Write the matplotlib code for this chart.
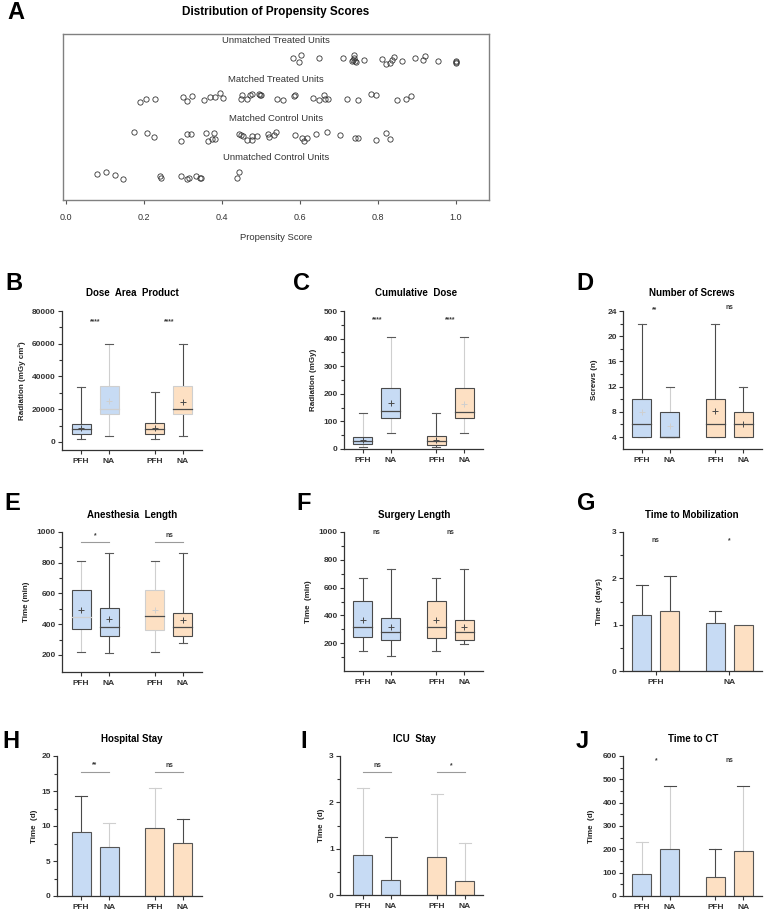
"""Propensity-score matching summary: jitter plot plus nine box/bar panels."""

import matplotlib
matplotlib.use("Agg")
import matplotlib.pyplot as plt
from matplotlib.patches import Rectangle
from matplotlib.ticker import FixedLocator, FuncFormatter
import numpy as np

plt.rcParams["font.family"] = ["Liberation Sans", "DejaVu Sans"]
plt.rcParams["font.weight"] = "bold"

W, H = 765, 915
BLUE = "#c7dbf4"
ORANGE = "#fde0c3"
EDGE = "#4a4a4a"
FAINT = "#cfcfcf"

# ---------------- panel A: propensity scores (value, jitter)
ut_score = [0.582, 0.602, 0.598, 0.649, 0.711, 0.738, 0.736, 0.739, 0.733, 0.740,
            0.745, 0.765, 0.811, 0.822, 0.830, 0.837, 0.842, 0.863, 0.895, 0.916,
            0.921, 0.955, 1.0, 1.0, 1.0]
ut_jit = [0.03, 0.10, -0.07, 0.02, 0.03, 0.10, -0.02, 0.03, -0.06, -0.05,
          -0.07, -0.03, 0.0, -0.13, -0.10, -0.02, 0.05, -0.05, 0.01, -0.03,
          0.07, -0.06, -0.05, -0.09, -0.11]
mt_score = [0.190, 0.205, 0.228, 0.301, 0.311, 0.323, 0.354, 0.370, 0.383, 0.395,
            0.402, 0.451, 0.449, 0.465, 0.471, 0.478, 0.495, 0.498, 0.500, 0.541,
            0.557, 0.584, 0.586, 0.634, 0.649, 0.661, 0.664, 0.672, 0.721, 0.748,
            0.782, 0.795, 0.848, 0.871, 0.884]
mt_jit = [-0.10, -0.02, -0.03, 0.03, -0.09, 0.05, -0.05, 0.01, 0.02, 0.11,
          -0.01, 0.08, -0.03, -0.03, 0.06, 0.10, 0.09, 0.06, 0.07, -0.02,
          -0.06, 0.05, 0.08, -0.01, -0.05, 0.07, -0.02, -0.03, -0.03, -0.06,
          0.09, 0.07, -0.05, -0.03, 0.04]
mc_score = [0.174, 0.208, 0.225, 0.294, 0.309, 0.320, 0.360, 0.364, 0.379, 0.375,
            0.381, 0.443, 0.448, 0.455, 0.463, 0.476, 0.478, 0.491, 0.519, 0.521,
            0.533, 0.538, 0.586, 0.604, 0.611, 0.618, 0.641, 0.669, 0.703, 0.741,
            0.750, 0.795, 0.821, 0.831]
mc_jit = [0.11, 0.09, -0.01, -0.10, 0.08, 0.06, 0.09, -0.11, 0.09, -0.06,
          -0.07, 0.07, 0.04, 0.02, -0.09, 0.02, -0.09, 0.02, 0.06, -0.01,
          0.04, 0.11, 0.04, -0.03, -0.12, -0.03, 0.07, 0.11, 0.03, -0.04,
          -0.03, -0.09, 0.09, -0.07]
uc_score = [0.079, 0.102, 0.126, 0.145, 0.242, 0.243, 0.294, 0.311, 0.315, 0.333,
            0.343, 0.346, 0.443, 0.439]
uc_jit = [0.05, 0.08, 0.01, -0.09, -0.02, -0.06, -0.01, -0.08, -0.07, -0.01,
          -0.06, -0.06, 0.09, -0.07]
row_labels = ["Unmatched Treated Units", "Matched Treated Units",
              "Matched Control Units", "Unmatched Control Units"]

# ---------------- box panels: (min, q1, median, q3, max, mean)
groups = ["PFH", "NA", "PFH", "NA"]
dap_stats = [(1800, 4700, 7700, 11200, 33500, 8700),
             (3500, 17300, 20300, 33900, 60000, 24800),
             (1800, 4900, 7700, 11600, 30300, 8700),
             (3500, 17300, 20300, 33900, 60000, 24200)]
dose_stats = [(6, 18, 28, 42, 129, 32),
              (58, 112, 138, 220, 405, 166),
              (6, 16, 28, 46, 129, 34),
              (58, 112, 133, 220, 405, 162)]
screw_stats = [(4, 4, 6, 10, 22, 8.0),
               (4, 4, 4, 8, 12, 5.75),
               (4, 4, 6, 10, 22, 8.2),
               (4, 4, 6, 8, 12, 6.0)]
anes_stats = [(219, 370, 446, 625, 812, 491),
              (211, 325, 385, 508, 862, 431),
              (222, 362, 456, 625, 812, 491),
              (278, 321, 379, 476, 862, 428)]
surg_stats = [(143, 245, 319, 503, 668, 365),
              (107, 226, 284, 381, 732, 315),
              (143, 238, 319, 503, 668, 367),
              (195, 221, 284, 365, 732, 319)]

# ---------------- bar panels: mean and top of the error bar
mob_groups = ["PFH", "NA"]
mob_mean = [1.21, 1.29, 1.03, 1.0]
mob_upper = [1.85, 2.04, 1.29, None]
hosp_mean = [9.19, 7.03, 9.71, 7.6]
hosp_upper = [14.35, 10.5, 15.5, 10.95]
icu_mean = [0.86, 0.32, 0.81, 0.31]
icu_upper = [2.32, 1.25, 2.19, 1.12]
ct_mean = [96, 200, 82, 193]
ct_upper = [230, 470, 200, 470]

# significance labels, left pair / right pair
sig_dap = ["****", "****"]
sig_dose = ["****", "****"]
sig_screw = ["**", "ns"]
sig_anes = ["*", "ns"]
sig_surg = ["ns", "ns"]
sig_mob = ["ns", "*"]
sig_hosp = ["**", "ns"]
sig_icu = ["ns", "*"]
sig_ct = ["*", "ns"]

POS = [0, 1, 2.64, 3.64]
FILLS = [BLUE, BLUE, ORANGE, ORANGE]
MOB_FILLS = [BLUE, ORANGE, BLUE, ORANGE]

fig = plt.figure(figsize=(W / 100, H / 100), dpi=100)


def px_axes(l, t, r, b):
    return fig.add_axes([l / W, 1 - b / H, (r - l) / W, (b - t) / H])


def letter(x, y, s):
    fig.text(x / W, 1 - y / H, s, fontsize=17, fontweight="bold", va="top", ha="left")


def title(x, y, s):
    fig.text(x / W, 1 - y / H, s, fontsize=7, fontweight="bold", ha="center", va="center")


def style(ax, l, r, ylim, major, minor, ylabel, ylabel_x, xticks=POS, xlabels=groups):
    ax.set_xlim(-0.68, 4.32)
    ax.set_ylim(*ylim)
    for s in ("top", "right"):
        ax.spines[s].set_visible(False)
    for s in ("left", "bottom"):
        ax.spines[s].set_color("#333333")
        ax.spines[s].set_linewidth(0.9)
    ax.set_yticks(major)
    ax.yaxis.set_minor_locator(FixedLocator(minor))
    ax.yaxis.set_major_formatter(FuncFormatter(lambda v, p: f"{v:g}"))
    ax.set_xticks(xticks)
    ax.set_xticklabels(xlabels)
    ax.tick_params(axis="both", which="major", direction="out", length=3, width=0.8,
                   colors="#333333", labelsize=6, pad=1.5)
    ax.tick_params(axis="y", which="minor", direction="out", length=2, width=0.8, colors="#333333")
    ax.tick_params(axis="x", pad=3)
    ax.set_ylabel(ylabel, fontsize=5.8, fontweight="bold", color="#222222")
    ax.yaxis.set_label_coords((ylabel_x - l) / (r - l), 0.5)


def draw_box(ax, x, st, fill, faint=()):
    lo, q1, med, q3, hi, mean = st
    c = lambda part: FAINT if part in faint else EDGE
    w = 0.68
    ax.plot([x, x], [q3, hi], color=c("whisker"), lw=0.8, zorder=1)
    ax.plot([x, x], [lo, q1], color=c("whisker"), lw=0.8, zorder=1)
    for v in (lo, hi):
        ax.plot([x - 0.15, x + 0.15], [v, v], color="#5a5a5a", lw=0.8, zorder=1)
    ax.add_patch(Rectangle((x - w / 2, q1), w, q3 - q1, facecolor=fill,
                           edgecolor=c("box"), lw=0.8, zorder=2))
    ax.plot([x - w / 2, x + w / 2], [med, med], color=c("median"), lw=0.9, zorder=3)
    ax.plot(x, mean, marker="+", color=c("mean"), ms=4, mew=0.7, zorder=4)


def draw_bar(ax, x, mean, upper, fill, err="n"):
    ax.bar(x, mean, width=0.68, color=fill, edgecolor="#555555", lw=0.8, zorder=2)
    if upper is None:
        return
    stem = FAINT if err in "fs" else EDGE
    cap = FAINT if err == "f" else EDGE
    ax.plot([x, x], [mean, upper], color=stem, lw=0.8, zorder=1)
    ax.plot([x - 0.22, x + 0.22], [upper, upper], color=cap, lw=0.8, zorder=1)


def sig(ax, labels, y, line=None, centers=(0.5, 3.14)):
    for lab, cx, (a, b) in zip(labels, centers, ((0, 1), (2.64, 3.64))):
        ax.text(cx, y, lab, fontsize=4.8, color="#3a3a3a", ha="center", va="center")
        if line is not None:
            ax.plot([a, b], [line, line], color="#9a9a9a", lw=0.8)


# ---------------- A
axA = px_axes(63, 34, 489, 200)
rows = [(ut_score, ut_jit, 4), (mt_score, mt_jit, 3), (mc_score, mc_jit, 2), (uc_score, uc_jit, 1)]
for (score, jit, level), lab in zip(rows, row_labels):
    axA.plot(score, np.add(level, jit), "o", ms=3.8, mfc="none", mec="#333333", mew=0.6)
    axA.text(0.539, level + 0.47, lab, fontsize=6.8, fontweight="normal", color="#333333",
             ha="center", va="center")
axA.set_xlim(-0.008, 1.085)
axA.set_ylim(0.37, 4.64)
axA.set_yticks([])
axA.set_xticks(np.arange(0, 1.01, 0.2))
axA.xaxis.set_major_formatter(FuncFormatter(lambda v, p: f"{v:.1f}"))
axA.tick_params(axis="x", length=3, width=0.8, colors="#555555", labelsize=6.5, pad=6)
for t in axA.get_xticklabels():
    t.set_fontweight("normal")
    t.set_color("#333333")
for s in axA.spines.values():
    s.set_color("#808080")
    s.set_linewidth(1.0)
axA.set_xlabel("Propensity Score", fontsize=6.8, fontweight="normal", color="#333333", labelpad=8)
letter(7, 1, "A")
title(276, 12, "Distribution of Propensity Scores")
fig.texts[-1].set_fontsize(8.5)

# ---------------- B
axB = px_axes(62, 311, 202, 450)
for x, st, f, fa in zip(POS, dap_stats, FILLS,
                        [(), ("whisker", "box", "median", "mean"), (), ("box",)]):
    draw_box(axB, x, st, f, fa)
style(axB, 62, 202, (-4900, 80000), range(0, 80001, 20000), range(10000, 80000, 20000),
      "Radiation (mGy cm²)", 26)
sig(axB, sig_dap, 73500)
letter(5, 272, "B")
title(132, 293, "Dose  Area  Product")

# ---------------- C
axC = px_axes(344, 311, 483, 449)
for x, st, f, fa in zip(POS, dose_stats, FILLS,
                        [("whisker",), ("whisker",), (), ("whisker", "mean")]):
    draw_box(axC, x, st, f, fa)
style(axC, 344, 483, (0, 500), range(0, 501, 100), range(50, 500, 100),
      "Radiation (mGy)", 317)
sig(axC, sig_dose, 469)
letter(293, 272, "C")
title(416, 293, "Cumulative  Dose")

# ---------------- D
axD = px_axes(623, 311, 762, 449)
for x, st, f, fa in zip(POS, screw_stats, FILLS,
                        [("mean",), ("whisker", "mean"), (), ()]):
    draw_box(axD, x, st, f, fa)
style(axD, 623, 762, (2.1, 24), range(4, 25, 4), range(6, 24, 4), "Screws (n)", 598)
axD.text(0.46, 24.2, sig_screw[0], fontsize=4.8, color="#3a3a3a", ha="center", va="center")
axD.text(3.14, 24.5, sig_screw[1], fontsize=4.8, color="#3a3a3a", ha="center", va="center")
letter(576, 272, "D")
title(692, 293, "Number of Screws")

# ---------------- E
axE = px_axes(62, 532, 202, 672)
for x, st, f, fa in zip(POS, anes_stats, FILLS,
                        [("whisker", "median"), (), ("whisker", "box", "mean"), ()]):
    draw_box(axE, x, st, f, fa)
style(axE, 62, 202, (89, 1000), range(200, 1001, 200), range(300, 1000, 200),
      "Time (min)", 30)
sig(axE, sig_anes, 978, line=935)
letter(4, 492, "E")
title(132, 515, "Anesthesia  Length")

# ---------------- F
axF = px_axes(344, 532, 483, 671)
for x, st, f in zip(POS, surg_stats, FILLS):
    draw_box(axF, x, st, f)
style(axF, 344, 483, (0, 1000), range(200, 1001, 200), range(100, 1000, 200),
      "Time  (min)", 312)
sig(axF, sig_surg, 1000)
letter(296, 492, "F")
title(414, 515, "Surgery Length")

# ---------------- G
axG = px_axes(623, 532, 762, 671)
for x, m, u, f in zip(POS, mob_mean, mob_upper, MOB_FILLS):
    draw_bar(axG, x, m, u, f)
style(axG, 623, 762, (0, 3), [0, 1, 2, 3], [0.5, 1.5, 2.5], "Time  (days)", 603,
      xticks=[0.5, 3.14], xlabels=mob_groups)
sig(axG, sig_mob, 2.81)
letter(577, 492, "G")
title(692, 515, "Time to Mobilization")

# ---------------- H
axH = px_axes(57, 756, 202, 896)
for x, m, u, f, e in zip(POS, hosp_mean, hosp_upper, FILLS, "nffn"):
    draw_bar(axH, x, m, u, f, e)
style(axH, 57, 202, (0, 20), range(0, 21, 5), np.arange(2.5, 20, 5), "Time  (d)", 38)
axH.set_xlim(-0.86, 4.32)
sig(axH, sig_hosp, 18.7, line=17.66)
letter(2, 730, "H")
title(132, 739, "Hospital Stay")

# ---------------- I
axI = px_axes(340, 756, 483, 895)
for x, m, u, f, e in zip(POS, icu_mean, icu_upper, FILLS, "fnff"):
    draw_bar(axI, x, m, u, f, e)
style(axI, 340, 483, (0, 3), [0, 1, 2, 3], [0.5, 1.5, 2.5], "Time  (d)", 325)
axI.set_xlim(-0.82, 4.29)
sig(axI, sig_icu, 2.79, line=2.65)
letter(300, 730, "I")
title(414, 739, "ICU  Stay")

# ---------------- J
axJ = px_axes(623, 756, 762, 896)
for x, m, u, f, e in zip(POS, ct_mean, ct_upper, FILLS, "fsns"):
    draw_bar(axJ, x, m, u, f, e)
style(axJ, 623, 762, (0, 600), range(0, 601, 100), range(50, 600, 100), "Time  (d)", 595)
sig(axJ, sig_ct, 580)
letter(576, 730, "J")
title(693, 739, "Time to CT")

fig.savefig("out.png", dpi=100)
plt.close(fig)
